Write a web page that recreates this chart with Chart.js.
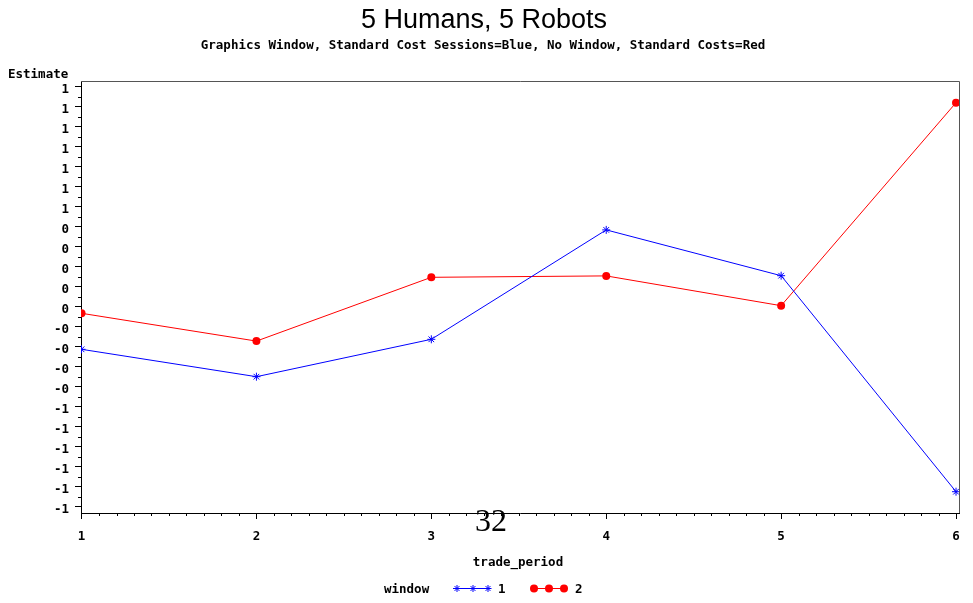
<!DOCTYPE html>
<html>
<head>
<meta charset="utf-8">
<script src="https://cdn.jsdelivr.net/npm/chart.js@4/dist/chart.umd.min.js"></script>
<style>
  html, body { margin: 0; padding: 0; background: #fff; }
  #wrap { width: 973px; height: 603px; position: relative; }
</style>
</head>
<body>
<div id="wrap"><canvas id="chart"></canvas></div>
<script>
// values
const tradePeriods = [1, 2, 3, 4, 5, 6];
const window1 = [-0.214, -0.351, -0.164, 0.383, 0.154, -0.926];   // blue, stars
const window2 = [-0.034, -0.173, 0.146, 0.153, 0.004, 1.019];     // red, dots

// SAS printed these rounded to whole numbers
const yTickValues = [1.1, 1.0, 0.9, 0.8, 0.7, 0.6, 0.5, 0.4, 0.3, 0.2, 0.1, 0.0,
                     -0.1, -0.2, -0.3, -0.4, -0.5, -0.6, -0.7, -0.8, -0.9, -1.0];
const yTickLabels = ['1', '1', '1', '1', '1', '1', '1', '0', '0', '0', '0', '0',
                     '-0', '-0', '-0', '-0', '-1', '-1', '-1', '-1', '-1', '-1'];
const xTickLabels = ['1', '2', '3', '4', '5', '6'];

const titleText = '5 Humans, 5 Robots';
const subtitleText = 'Graphics Window, Standard Cost Sessions=Blue, No Window, Standard Costs=Red';

const MONO = '"DejaVu Sans Mono", monospace';

const toPoints = vals => vals.map((v, i) => ({ x: tradePeriods[i], y: v }));

// minor ticks, frame, titles and the legend
const sasDecor = {
  id: 'sasDecor',
  afterDraw(chart) {
    const ctx = chart.ctx;
    const a = chart.chartArea;
    const xs = chart.scales.x, ys = chart.scales.y;
    ctx.save();

    // frame top + right
    ctx.strokeStyle = '#555';
    ctx.lineWidth = 1;
    ctx.beginPath();
    ctx.moveTo(a.left, a.top + 0.5);
    ctx.lineTo(a.right + 0.5, a.top + 0.5);
    ctx.lineTo(a.right + 0.5, a.bottom);
    ctx.stroke();

    // minor ticks
    ctx.strokeStyle = '#000';
    ctx.beginPath();
    for (let i = 0; i < yTickValues.length - 1; i++) {
      const y = Math.round(ys.getPixelForValue((yTickValues[i] + yTickValues[i + 1]) / 2)) + 0.5;
      ctx.moveTo(a.left - 3, y);
      ctx.lineTo(a.left, y);
    }
    for (let p = 1; p < 6; p++) {
      for (let k = 1; k < 10; k++) {
        const x = Math.round(xs.getPixelForValue(p + k / 10)) + 0.5;
        ctx.moveTo(x, a.bottom);
        ctx.lineTo(x, a.bottom + 3);
      }
    }
    ctx.stroke();

    // titles
    ctx.fillStyle = '#000';
    ctx.textAlign = 'center';
    ctx.textBaseline = 'middle';
    ctx.font = '27px "Liberation Sans", Arial, sans-serif';
    ctx.fillText(titleText, 484, 21);
    ctx.font = 'bold 12.5px ' + MONO;
    ctx.fillText(subtitleText, 483, 46);

    // axis labels
    ctx.textAlign = 'left';
    ctx.fillText('Estimate', 8, 75);
    ctx.textAlign = 'center';
    ctx.fillText('trade_period', 518, 563);

    // stray page number
    ctx.font = '32px "Liberation Serif", "Times New Roman", serif';
    ctx.fillText('32', 491, 523);

    // legend
    ctx.font = 'bold 12.5px ' + MONO;
    ctx.textAlign = 'left';
    ctx.fillText('window', 384, 590);
    ctx.fillText('1', 498, 590);
    ctx.fillText('2', 575, 590);

    ctx.strokeStyle = '#0000ff';
    ctx.beginPath();
    ctx.moveTo(453, 588.5); ctx.lineTo(491, 588.5);
    [457, 473, 488].forEach(x => {
      const r = 3.5;
      ctx.moveTo(x - r, 588.5); ctx.lineTo(x + r, 588.5);
      ctx.moveTo(x, 588.5 - r); ctx.lineTo(x, 588.5 + r);
      ctx.moveTo(x - r * 0.7, 588.5 - r * 0.7); ctx.lineTo(x + r * 0.7, 588.5 + r * 0.7);
      ctx.moveTo(x - r * 0.7, 588.5 + r * 0.7); ctx.lineTo(x + r * 0.7, 588.5 - r * 0.7);
    });
    ctx.stroke();

    ctx.strokeStyle = '#ff0000';
    ctx.fillStyle = '#ff0000';
    ctx.beginPath();
    ctx.moveTo(534, 588.5); ctx.lineTo(564, 588.5);
    ctx.stroke();
    [534, 549, 564].forEach(x => {
      ctx.beginPath();
      ctx.arc(x, 588.5, 4, 0, Math.PI * 2);
      ctx.fill();
    });

    ctx.restore();
  }
};

new Chart(document.getElementById('chart'), {
  type: 'line',
  data: {
    datasets: [
      {
        label: '1',
        data: toPoints(window1),
        borderColor: '#0000ff',
        backgroundColor: '#0000ff',
        borderWidth: 1,
        pointStyle: 'star',
        pointRadius: 4,
        pointBorderWidth: 1,
        tension: 0
      },
      {
        label: '2',
        data: toPoints(window2),
        borderColor: '#ff0000',
        backgroundColor: '#ff0000',
        borderWidth: 1,
        pointStyle: 'circle',
        pointRadius: 4,
        pointBorderWidth: 0,
        tension: 0
      }
    ]
  },
  options: {
    responsive: true,
    maintainAspectRatio: false,
    animation: false,
    layout: { padding: { top: 81, right: 14, bottom: 0, left: 0 } },
    plugins: {
      legend: { display: false },
      tooltip: { enabled: false },
      title: { display: false }
    },
    scales: {
      x: {
        type: 'linear',
        min: 0.997,
        max: 6.017,
        afterBuildTicks: scale => { scale.ticks = tradePeriods.map(v => ({ value: v })); },
        afterFit: scale => { scale.height = 90; },
        ticks: {
          color: '#000',
          font: { family: MONO, size: 12.5, weight: 'bold' },
          padding: 10,
          maxRotation: 0,
          autoSkip: false,
          callback: (v, i) => xTickLabels[i]
        },
        grid: { drawOnChartArea: false, drawTicks: true, tickLength: 6, color: '#000' },
        border: { display: true, color: '#000' }
      },
      y: {
        min: -1.0325,
        max: 1.1275,
        afterBuildTicks: scale => { scale.ticks = yTickValues.map(v => ({ value: v })); },
        afterFit: scale => { scale.width = 81; },
        ticks: {
          color: '#000',
          font: { family: MONO, size: 12.5, weight: 'bold' },
          padding: 6,
          labelOffset: 3,
          autoSkip: false,
          callback: (v, i) => yTickLabels[i]
        },
        grid: { drawOnChartArea: false, drawTicks: true, tickLength: 6, color: '#000' },
        border: { display: true, color: '#000' }
      }
    }
  },
  plugins: [sasDecor]
});
</script>
</body>
</html>
